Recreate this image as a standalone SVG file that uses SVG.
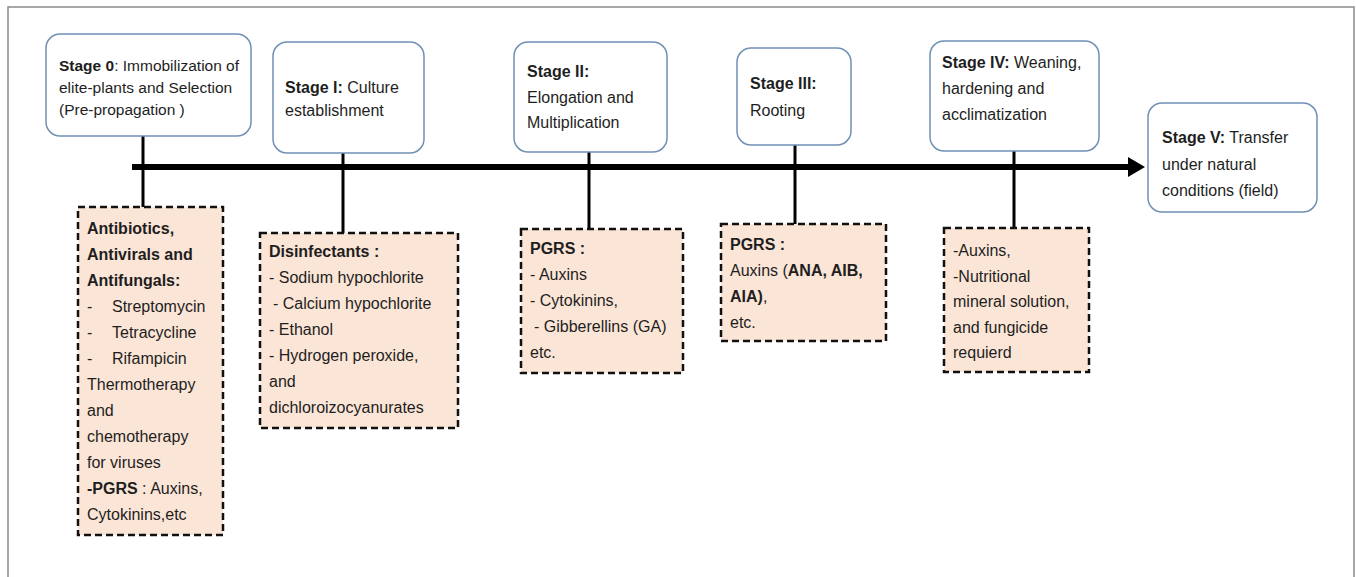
<svg xmlns="http://www.w3.org/2000/svg" width="1356" height="577" viewBox="0 0 1356 577">
<defs>
<style>
text{font-family:"Liberation Sans",Arial,sans-serif;font-size:16px;fill:#1e1e1e}
.b{font-weight:bold}
.s0{font-size:15.5px}
.stage{fill:#ffffff;stroke:#7090b4;stroke-width:1.5}
.note{fill:#fbe5d6;stroke:#111;stroke-width:2.5;stroke-dasharray:7 4}
.vl{stroke:#000;stroke-width:3;fill:none}
</style>
</defs>
<rect x="0" y="0" width="1356" height="577" fill="#ffffff"/>
<rect x="8" y="7" width="1346" height="600" fill="#ffffff" stroke="#8a8a8a" stroke-width="1.5"/>

<g id="connectors">
<line x1="132" y1="167" x2="1130" y2="167" stroke="#000" stroke-width="6"/>
<polygon points="1128,157 1145,167 1128,177" fill="#000"/>
<line class="vl" x1="143" y1="136" x2="143" y2="207"/>
<line class="vl" x1="343" y1="153" x2="343" y2="233"/>
<line class="vl" x1="589" y1="152" x2="589" y2="229"/>
<line class="vl" x1="795" y1="145" x2="795" y2="224"/>
<line class="vl" x1="1014" y1="151" x2="1014" y2="228"/>
</g>

<g id="stage0">
<rect class="stage" x="46" y="34" width="205" height="102" rx="14"/>
<text class="s0" x="59" y="71"><tspan class="b">Stage 0</tspan>: Immobilization of</text>
<text class="s0" x="59" y="93">elite-plants and Selection</text>
<text class="s0" x="59" y="115"> (Pre-propagation )</text>
</g>
<g id="stage1">
<rect class="stage" x="273" y="42" width="151" height="111" rx="14"/>
<text x="285" y="93"><tspan class="b">Stage I:</tspan> Culture</text>
<text x="285" y="116">establishment</text>
</g>
<g id="stage2">
<rect class="stage" x="514" y="42" width="153" height="110" rx="14"/>
<text x="527" y="77" class="b">Stage II:</text>
<text x="527" y="103">Elongation and</text>
<text x="527" y="128">Multiplication</text>
</g>
<g id="stage3">
<rect class="stage" x="737" y="48" width="114" height="97" rx="14"/>
<text x="750" y="89" class="b">Stage III:</text>
<text x="750" y="116">Rooting</text>
</g>
<g id="stage4">
<rect class="stage" x="930" y="41" width="169" height="110" rx="14"/>
<text x="942" y="68"><tspan class="b">Stage IV:</tspan> Weaning,</text>
<text x="942" y="94">hardening and</text>
<text x="942" y="120">acclimatization</text>
</g>
<g id="stage5">
<rect class="stage" x="1148" y="103" width="169" height="109" rx="14"/>
<text x="1162" y="143"><tspan class="b">Stage V:</tspan> Transfer</text>
<text x="1162" y="170">under natural</text>
<text x="1162" y="196">conditions (field)</text>
</g>

<g id="note0">
<rect class="note" x="78" y="207" width="145" height="328"/>
<text x="87" y="234" class="b">Antibiotics,</text>
<text x="87" y="260" class="b">Antivirals and</text>
<text x="87" y="286" class="b">Antifungals:</text>
<text x="87" y="312">-</text><text x="112" y="312">Streptomycin</text>
<text x="87" y="338">-</text><text x="112" y="338">Tetracycline</text>
<text x="87" y="364">-</text><text x="112" y="364">Rifampicin</text>
<text x="87" y="390">Thermotherapy</text>
<text x="87" y="416">and</text>
<text x="87" y="442">chemotherapy</text>
<text x="87" y="468">for viruses</text>
<text x="87" y="494"><tspan class="b">-PGRS</tspan> : Auxins,</text>
<text x="87" y="520">Cytokinins,etc</text>
</g>
<g id="note1">
<rect class="note" x="260" y="233" width="198" height="195"/>
<text x="269" y="257" class="b">Disinfectants :</text>
<text x="269" y="283">- Sodium hypochlorite</text>
<text x="273" y="309">- Calcium hypochlorite</text>
<text x="269" y="335">- Ethanol</text>
<text x="269" y="361">- Hydrogen peroxide,</text>
<text x="269" y="387">and</text>
<text x="269" y="413">dichloroizocyanurates</text>
</g>
<g id="note2">
<rect class="note" x="521" y="229" width="162" height="144"/>
<text x="530" y="254" class="b">PGRS :</text>
<text x="530" y="280">- Auxins</text>
<text x="530" y="306">- Cytokinins,</text>
<text x="534" y="332">- Gibberellins (GA)</text>
<text x="530" y="358">etc.</text>
</g>
<g id="note3">
<rect class="note" x="721" y="224" width="165" height="117"/>
<text x="730" y="250" class="b">PGRS :</text>
<text x="730" y="276">Auxins (<tspan class="b">ANA, AIB,</tspan></text>
<text x="730" y="302"><tspan class="b">AIA)</tspan>,</text>
<text x="730" y="328">etc.</text>
</g>
<g id="note4">
<rect class="note" x="944" y="228" width="145" height="144"/>
<text x="953" y="256">-Auxins,</text>
<text x="953" y="282">-Nutritional</text>
<text x="953" y="307">mineral solution,</text>
<text x="953" y="333">and fungicide</text>
<text x="953" y="358">requierd</text>
</g>
</svg>
